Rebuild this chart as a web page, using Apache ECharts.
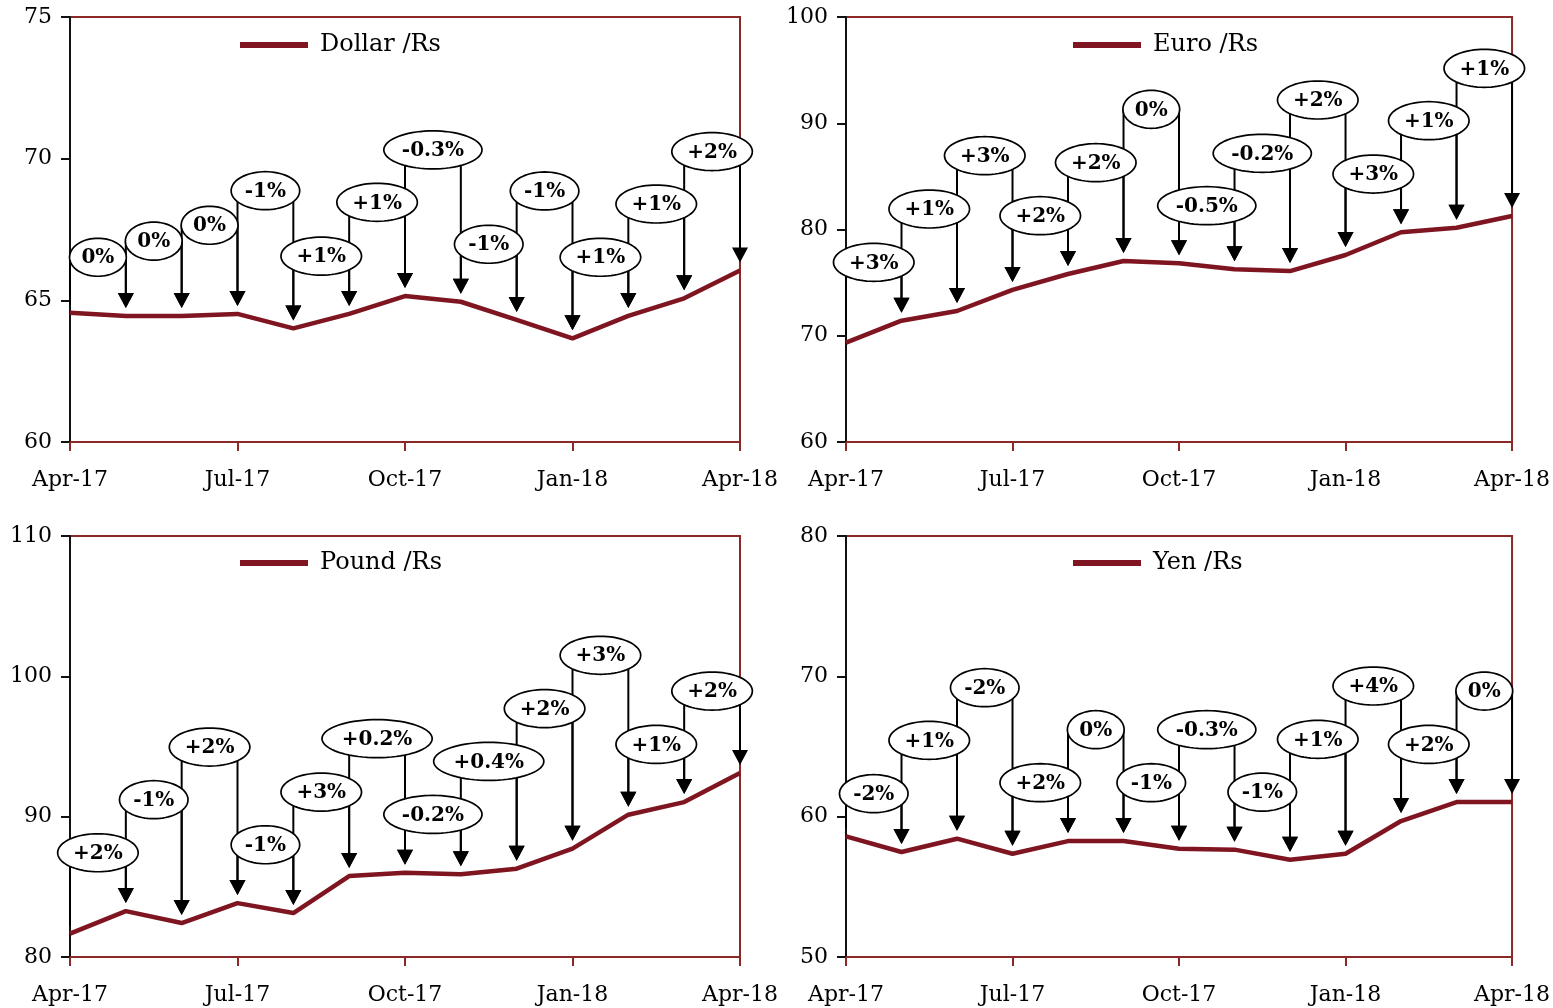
<!DOCTYPE html>
<html><head><meta charset="utf-8">
<script src="https://cdn.jsdelivr.net/npm/echarts@6/dist/echarts.min.js"></script>
<style>html,body{margin:0;padding:0;background:#fff;overflow:hidden}#c{width:1553px;height:1008px}</style>
</head><body><div id="c"></div>
<script>
// ---------- DATA ----------
const months = ['Apr-17','May-17','Jun-17','Jul-17','Aug-17','Sep-17','Oct-17','Nov-17','Dec-17','Jan-18','Feb-18','Mar-18','Apr-18'];

const dollarRs = [64.56, 64.45, 64.45, 64.52, 64.01, 64.52, 65.15, 64.95, 64.31, 63.66, 64.45, 65.07, 66.05];
const dollarChange = ['0%','0%','0%','-1%','+1%','+1%','-0.3%','-1%','-1%','+1%','+1%','+2%'];
const dollarCalloutLevel = [66.52, 67.09, 67.65, 68.87, 66.56, 68.46, 70.31, 66.98, 68.86, 66.52, 68.4, 70.25];

const euroRs = [69.35, 71.42, 72.33, 74.31, 75.81, 77.04, 76.82, 76.25, 76.09, 77.6, 79.74, 80.17, 81.27];
const euroChange = ['+3%','+1%','+3%','+2%','+2%','0%','-0.5%','-0.2%','+2%','+3%','+1%','+1%'];
const euroCalloutLevel = [76.91, 81.93, 86.95, 81.3, 86.29, 91.31, 82.24, 87.17, 92.19, 85.22, 90.24, 95.17];

const poundRs = [81.66, 83.27, 82.42, 83.84, 83.13, 85.77, 86.01, 85.89, 86.29, 87.72, 90.14, 91.04, 93.11];
const poundChange = ['+2%','-1%','+2%','-1%','+3%','+0.2%','-0.2%','+0.4%','+2%','+3%','+1%','+2%'];
const poundCalloutLevel = [87.43, 91.21, 94.96, 88.0, 91.75, 95.56, 90.16, 93.94, 97.7, 101.5, 95.15, 98.95];

const yenRs = [58.6, 57.48, 58.43, 57.36, 58.26, 58.26, 57.72, 57.65, 56.93, 57.36, 59.69, 61.04, 61.04];
const yenChange = ['-2%','+1%','-2%','+2%','0%','-1%','-0.3%','-1%','+1%','+4%','+2%','0%'];
const yenCalloutLevel = [61.64, 65.44, 69.19, 62.42, 66.2, 62.42, 66.2, 61.75, 65.51, 69.31, 65.15, 68.95];

const panels = [
  {name:'Dollar /Rs', values:dollarRs, changes:dollarChange, levels:dollarCalloutLevel, min:60, max:75, interval:5},
  {name:'Euro /Rs', values:euroRs, changes:euroChange, levels:euroCalloutLevel, min:60, max:100, interval:10},
  {name:'Pound /Rs', values:poundRs, changes:poundChange, levels:poundCalloutLevel, min:80, max:110, interval:10},
  {name:'Yen /Rs', values:yenRs, changes:yenChange, levels:yenCalloutLevel, min:50, max:80, interval:10}
];

// ---------- LAYOUT / STYLE ----------
const grids = [
  {left:70, top:17, right:813, height:425},
  {left:846, top:17, right:37, height:425},
  {left:70, top:536, right:813, height:421},
  {left:846, top:536, right:37, height:421}
];
const legendPos = [
  {left:240, top:33}, {left:1073, top:33}, {left:240, top:551}, {left:1073, top:551}
];
const LINE_COLOR = '#7F1520';
const FRAME = '#8B2828';
const FONT = 'DejaVu Serif';
const CALLOUT_FONT = 'bold 20px "DejaVu Serif"';

const mctx = document.createElement('canvas').getContext('2d');
mctx.font = CALLOUT_FONT;
function textW(s){ return mctx.measureText(s).width; }

function ellipsePoints(cx, cy, rx, ry){
  const pts = [];
  for (let k = 0; k < 72; k++) {
    const a = k / 72 * Math.PI * 2;
    pts.push([cx + rx * Math.cos(a), cy + ry * Math.sin(a)]);
  }
  return pts;
}

function connectorRender(p){
  return function(params, api){
    const i = params.dataIndex;
    const lvl = p.levels[i];
    const cL = api.coord([i, lvl]);
    const cR = api.coord([i + 1, lvl]);
    const dL = api.coord([i, p.values[i]]);
    const dR = api.coord([i + 1, p.values[i + 1]]);
    const children = [];
    const gap = 8, ah = 15, aw = 8;
    const tipL = dL[1] - gap;
    if (i === 0) {
      children.push({type:'line', shape:{x1:cL[0], y1:cL[1], x2:cL[0], y2:tipL}, style:{stroke:'#000', lineWidth:2}});
    } else {
      children.push({type:'line', shape:{x1:cL[0], y1:cL[1], x2:cL[0], y2:tipL - ah + 2}, style:{stroke:'#000', lineWidth:2}});
      children.push({type:'polygon', shape:{points:[[cL[0]-aw, tipL-ah],[cL[0]+aw, tipL-ah],[cL[0], tipL]]}, style:{fill:'#000'}});
    }
    const tipR = dR[1] - gap;
    children.push({type:'line', shape:{x1:cR[0], y1:cR[1], x2:cR[0], y2:tipR - ah + 2}, style:{stroke:'#000', lineWidth:2}});
    children.push({type:'polygon', shape:{points:[[cR[0]-aw, tipR-ah],[cR[0]+aw, tipR-ah],[cR[0], tipR]]}, style:{fill:'#000'}});
    return {type:'group', children};
  };
}

function calloutRender(p){
  return function(params, api){
    const i = params.dataIndex;
    const lvl = p.levels[i];
    const cL = api.coord([i, lvl]);
    const cR = api.coord([i + 1, lvl]);
    const cx = (cL[0] + cR[0]) / 2, cy = cL[1];
    const label = p.changes[i];
    const w = textW(label) * 1.42 + 10;
    return {type:'group', children:[
      {type:'polygon', shape:{points:ellipsePoints(cx, cy, w/2, 19)}, style:{fill:'#fff', stroke:'#000', lineWidth:1.7}},
      {type:'text', style:{x:cx, y:cy + 1, text:label, font:CALLOUT_FONT, fill:'#000', align:'center', verticalAlign:'middle'}}
    ]};
  };
}

const option = {
  animation:false,
  backgroundColor:'#fff',
  grid: grids.map(g => Object.assign({show:true, borderColor:FRAME, borderWidth:2, backgroundColor:'transparent', containLabel:false}, g)),
  legend: panels.map((p, k) => ({
    data:[p.name], left:legendPos[k].left, top:legendPos[k].top, padding:0,
    icon:'rect', itemWidth:68, itemHeight:6, selectedMode:false,
    textStyle:{fontFamily:FONT, fontSize:24, color:'#000', padding:[0,0,0,7]}
  })),
  xAxis: panels.map((p, k) => ({
    type:'category', gridIndex:k, data:months, boundaryGap:false,
    axisLine:{lineStyle:{color:FRAME, width:2}},
    axisTick:{show:true, interval:2, length:9, lineStyle:{color:FRAME, width:2}},
    axisLabel:{interval:2, margin:27, fontFamily:FONT, fontSize:22, color:'#000'},
    splitLine:{show:false}
  })),
  yAxis: panels.map((p, k) => ({
    type:'value', gridIndex:k, min:p.min, max:p.max, interval:p.interval,
    axisLine:{show:true, lineStyle:{color:'#111', width:2}},
    axisTick:{show:true, length:9, lineStyle:{color:'#111', width:2}},
    axisLabel:{margin:18, fontFamily:FONT, fontSize:22, color:'#000'},
    splitLine:{show:false}
  })),
  series: []
};

panels.forEach((p, k) => {
  option.series.push({
    name:p.name, type:'line', xAxisIndex:k, yAxisIndex:k, data:p.values,
    symbol:'none', lineStyle:{color:LINE_COLOR, width:4.5}, itemStyle:{color:LINE_COLOR}, z:2
  });
  const cdata = p.changes.map((c, i) => [i, p.levels[i]]);
  option.series.push({
    type:'custom', xAxisIndex:k, yAxisIndex:k, data:cdata, renderItem:connectorRender(p), z:3, silent:true
  });
  option.series.push({
    type:'custom', xAxisIndex:k, yAxisIndex:k, data:cdata, renderItem:calloutRender(p), z:4, silent:true
  });
});

const chart = echarts.init(document.getElementById('c'), null, {renderer:'canvas', width:1553, height:1008});
chart.setOption(option);
</script>
</body></html>
